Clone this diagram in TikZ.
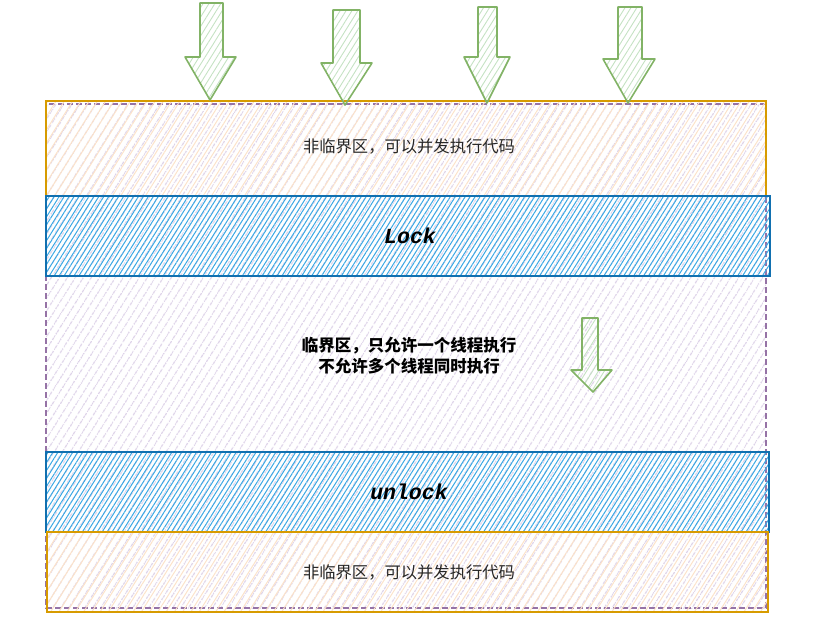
\documentclass[tikz,border=0pt]{standalone}
\usepackage{fontspec}
\newfontfamily\cjk{Noto Sans CJK SC}
\newfontfamily\monob{Liberation Mono}
\usetikzlibrary{patterns.meta}
\definecolor{orstroke}{HTML}{D79B00}
\definecolor{orfill}{HTML}{FCE3CA}
\definecolor{pustroke}{HTML}{9673A6}
\definecolor{pufill}{HTML}{DDD2E8}
\definecolor{blstroke}{HTML}{1170B0}
\definecolor{blfill}{HTML}{3AA8E4}
\definecolor{grstroke}{HTML}{82B366}
\definecolor{grfill}{HTML}{C5E2C3}
\tikzset{
  purplebox/.style={draw=pustroke, line width=1.2pt, dashed, dash pattern=on 6pt off 3pt,
    pattern={Lines[angle=58,distance=6.5pt,line width=1pt]}, pattern color=pufill},
  orangebox/.style={draw=orstroke, line width=1.8pt,
    pattern={Lines[angle=58,distance=7pt,line width=1pt]}, pattern color=orfill},
  bluebox/.style={draw=blstroke, line width=1.6pt,
    pattern={Lines[angle=58,distance=4.2pt,line width=1pt]}, pattern color=blfill},
  greenarrow/.style={draw=grstroke, line width=1.6pt, line join=round,
    pattern={Lines[angle=58,distance=5pt,line width=0.9pt]}, pattern color=grfill},
  normaltext/.style={font=\cjk\fontsize{16.3}{21}\selectfont, text=black!85, align=center},
  boldtext/.style={font=\cjk\bfseries\fontsize{16.5}{21}\selectfont, text=black, align=center},
  codetext/.style={font=\monob\bfseries\itshape\fontsize{21.5}{24}\selectfont, text=black}
}
\begin{document}
\begin{tikzpicture}[x=1pt,y=-1pt]
\useasboundingbox (0,0) rectangle (824,640);
% big purple region
\path[purplebox] (46,104) rectangle (766,608);
% top orange
\path[orangebox] (46,101) rectangle (766,196);
\node[normaltext] (toptext) at (409,146) {非临界区，可以并发执行代码};
% lock band
\path[bluebox] (46,196) rectangle (770,276);
\node[codetext] (locktext) at (410,236) {Lock};
% unlock band
\path[bluebox] (46,452) rectangle (769,532);
\node[codetext] (unlocktext) at (409,492) {unlock};
% bottom orange
\path[orangebox] (47,532) rectangle (768,612);
\node[normaltext] (bottext) at (409,572) {非临界区，可以并发执行代码};
\node[boldtext] (crittext) at (409,356) {临界区，只允许一个线程执行\\不允许多个线程同时执行};
% arrows
\path[greenarrow] (200,3) -- (223,3) -- (223,57) -- (236,57) -- (210,100) -- (185,57) -- (200,57) -- cycle;
\path[greenarrow] (333,10) -- (360,10) -- (360,63) -- (372,63) -- (345,105) -- (321,63) -- (333,63) -- cycle;
\path[greenarrow] (478,7) -- (497,7) -- (497,57) -- (510,57) -- (487,103) -- (464,57) -- (478,57) -- cycle;
\path[greenarrow] (618,7) -- (642,7) -- (642,59) -- (655,59) -- (628,103) -- (603,59) -- (618,59) -- cycle;
\path[greenarrow] (582,318) -- (598,318) -- (598,370) -- (612,370) -- (593,392) -- (571,370) -- (582,370) -- cycle;
\end{tikzpicture}
\end{document}
